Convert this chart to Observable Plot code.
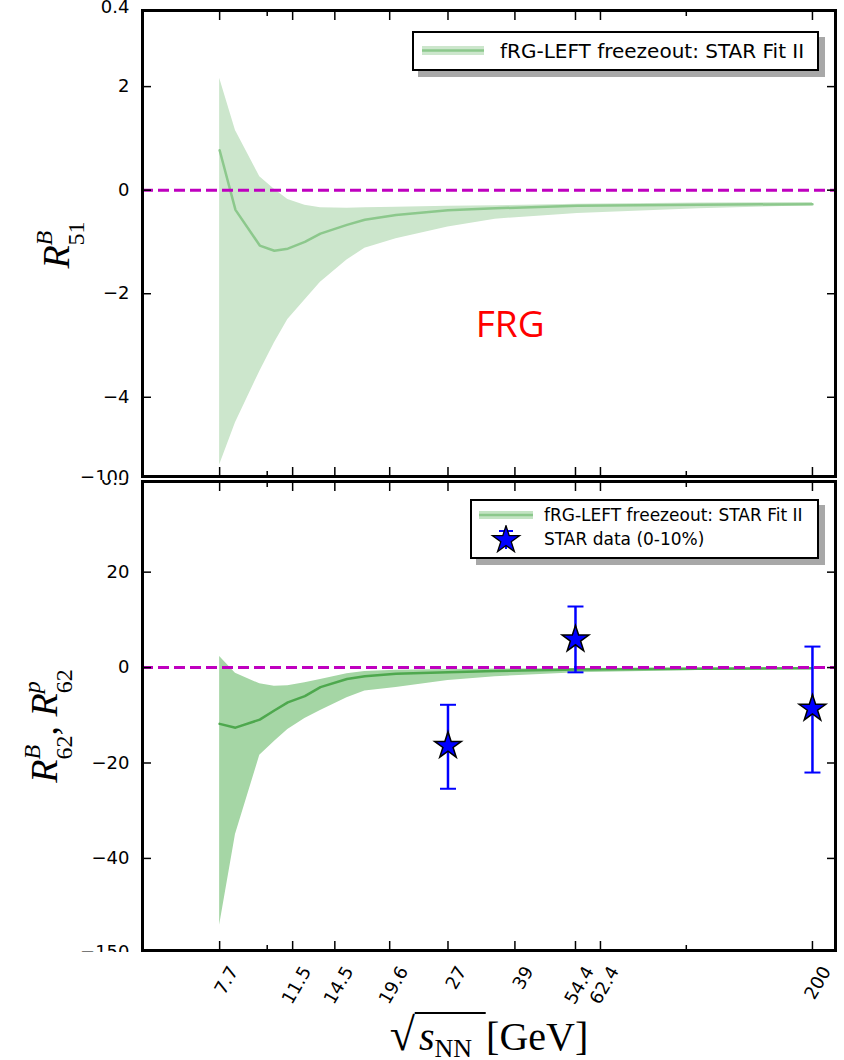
<!DOCTYPE html>
<html><head><meta charset="utf-8">
<script src="https://cdn.jsdelivr.net/npm/d3@7"></script>
<script src="https://cdn.jsdelivr.net/npm/@observablehq/plot@0.6"></script>
<style>
body{margin:0;background:#fff;}
#wrap{position:relative;width:844px;height:1060px;overflow:hidden;background:#fff;font-family:"DejaVu Sans",sans-serif;}
.pane{position:absolute;left:0;}
.legend{position:absolute;box-sizing:border-box;border:2px solid #000;background:#fff;box-shadow:6px 6px 0 #a8a8a8;}
.row{position:absolute;left:0;display:flex;align-items:center;white-space:nowrap;color:#000;}
.ylab{position:absolute;transform:translate(-50%,-50%) rotate(-90deg);font-family:"Liberation Serif",serif;font-size:38px;white-space:nowrap;line-height:1;color:#000;}
.ss{display:inline-block;font-size:24px;line-height:32px;vertical-align:-15px;}
.ss>*{display:block;}
#xlab{position:absolute;left:489px;top:1008px;transform:translateX(-50%);font-family:"Liberation Serif",serif;font-size:40px;white-space:nowrap;color:#000;}
#xlab .rad{font-size:46px;}
#xlab .ov{border-top:2px solid #000;padding:0 14px 0 4px;}
#xlab .nn{font-size:26px;position:relative;top:7px;}
</style></head>
<body><div id="wrap">
<div class="pane" id="top" style="top:0"></div>
<div class="pane" id="bot" style="top:480px"></div>
<div class="pane" id="xt" style="top:952px"></div>
<div class="legend" id="leg1" style="left:412px;top:31px;width:407px;height:40px;"></div>
<div class="legend" id="leg2" style="left:470px;top:499px;width:349px;height:60px;"></div>
<div class="ylab" style="left:60px;top:245px;"><i>R</i><span class="ss"><i>B</i><span>51</span></span></div>
<div class="ylab" style="left:48px;top:726px;"><i>R</i><span class="ss"><i>B</i><span>62</span></span>,&nbsp;<i>R</i><span class="ss"><i>p</i><span>62</span></span></div>
<div id="xlab"><span class="rad">√</span><span class="ov"><i>s</i><span class="nn">NN</span></span>[GeV]</div>
</div>
<script>
// ---- data ----
const energy = [7.7, 8.4, 9.6, 10.4, 11.2, 12.3, 13.4, 15.5, 17.1, 20.3, 27, 35, 55, 107, 200];
const r51Mid = [0.77, -0.38, -1.07, -1.17, -1.13, -1.0, -0.84, -0.67, -0.57, -0.48, -0.39, -0.35, -0.30, -0.28, -0.27];
const r51Hi  = [2.16, 1.15, 0.26, 0.02, -0.18, -0.29, -0.34, -0.35, -0.34, -0.33, -0.31, -0.30, -0.27, -0.25, -0.24];
const r51Lo  = [-5.31, -4.49, -3.50, -2.95, -2.50, -2.12, -1.78, -1.35, -1.12, -0.94, -0.71, -0.56, -0.45, -0.36, -0.30];
const r62Mid = [-11.8, -12.6, -10.9, -9.0, -7.3, -6.0, -4.1, -2.4, -1.8, -1.3, -1.0, -0.7, -0.42, -0.25, -0.15];
const r62Hi  = [2.3, -1.2, -3.4, -3.9, -3.8, -3.2, -2.5, -1.3, -0.8, -0.55, -0.42, -0.3, -0.2, -0.1, -0.05];
const r62Lo  = [-54, -35, -18.4, -15.5, -13.0, -10.7, -9.0, -6.3, -4.9, -4.2, -2.7, -1.9, -1.1, -0.6, -0.35];
const starE  = [27, 54.4, 200];
const starV  = [-16.4, 5.9, -8.6];
const starHi = [-7.8, 12.8, 4.4];
const starLo = [-25.4, -1.0, -22.0];
const xTicks = [7.7, 11.5, 14.5, 19.6, 27, 39, 54.4, 62.4, 200];
const xMinor = [10, 100];
const y51Ticks = [-4, -2, 0, 2];
const y62Ticks = [-40, -20, 0, 20];
const frgE = [38], frgV = [-2.6], frgText = ["FRG"];
const strayTopV = [3.53, -5.55], strayTopT = ["0.4", "\u2212100"];
const strayBotV = [39.5, -59.7], strayBotT = ["\u22120.5", "\u2212150"];
const legendText = "fRG-LEFT freezeout: STAR Fit II";
const legendStar = "STAR data (0-10%)";

// ---- tables ----
const t51 = energy.map((E, i) => ({E, mid: r51Mid[i], hi: r51Hi[i], lo: r51Lo[i]}));
const t62 = energy.map((E, i) => ({E, mid: r62Mid[i], hi: r62Hi[i], lo: r62Lo[i]}));
const stars = starE.map((E, i) => ({E, v: starV[i], hi: starHi[i], lo: starLo[i]}));
const frg = frgE.map((E, i) => ({E, v: frgV[i], t: frgText[i]}));
const strayTop = strayTopV.map((v, i) => ({v, t: strayTopT[i]}));
const strayBot = strayBotV.map((v, i) => ({v, t: strayBotT[i]}));

const fmt = d => d < 0 ? "\u2212" + Math.abs(d) : String(d);
const xDomain = [5.04, 227];
const W = 844, ML = 142, MR = 9;
const hline = {draw(ctx, size) { const r = Math.sqrt(size / Math.PI); ctx.moveTo(-r, 0); ctx.lineTo(r, 0); }};
const none = () => "";

function axes(yTicks, stray) {
  const t = {strokeWidth: 1.5, label: null};
  return [
    Plot.axisY(yTicks, {...t, anchor: "left", tickSize: -9, tickFormat: none}),
    Plot.axisY(yTicks, {...t, anchor: "right", tickSize: -9, tickFormat: none}),
    Plot.axisY(yTicks, {anchor: "left", tickSize: 0, tickPadding: 13, tickFormat: fmt, fontSize: 18, label: null}),
    Plot.text(stray, {y: "v", text: "t", frameAnchor: "left", textAnchor: "end", dx: -13, fontSize: 18, fill: "black"}),
    Plot.axisX(xTicks, {...t, anchor: "bottom", tickSize: -9, tickFormat: none}),
    Plot.axisX(xTicks, {...t, anchor: "top", tickSize: -9, tickFormat: none}),
    Plot.axisX(xMinor, {...t, anchor: "bottom", tickSize: -5, tickFormat: none}),
    Plot.axisX(xMinor, {...t, anchor: "top", tickSize: -5, tickFormat: none})
  ];
}
const baseStyle = {background: "white", fontFamily: "DejaVu Sans", fontSize: "18px", color: "black"};

const topPlot = Plot.plot({
  width: W, height: 480, marginLeft: ML, marginRight: MR, marginTop: 10, marginBottom: 4,
  style: baseStyle,
  x: {type: "log", domain: xDomain, axis: null},
  y: {domain: [-5.53, 3.47], axis: null},
  marks: [
    Plot.areaY(t51, {x: "E", y1: "lo", y2: "hi", fill: "#cce6cc"}),
    Plot.line(t51, {x: "E", y: "mid", stroke: "#8cc88c", strokeWidth: 2.5}),
    Plot.ruleY([0], {stroke: "#bf00bf", strokeWidth: 3, strokeDasharray: "11,5"}),
    Plot.text(frg, {x: "E", y: "v", text: "t", fill: "red", fontSize: 37, fontFamily: "Open Sans"}),
    ...axes(y51Ticks, strayTop),
    Plot.frame({stroke: "black", strokeWidth: 3})
  ]
});
document.getElementById("top").appendChild(topPlot);

const botPlot = Plot.plot({
  width: W, height: 472, marginLeft: ML, marginRight: MR, marginTop: 1, marginBottom: 2,
  style: baseStyle,
  x: {type: "log", domain: xDomain, axis: null},
  y: {domain: [-59.3, 39.0], axis: null},
  marks: [
    Plot.areaY(t62, {x: "E", y1: "lo", y2: "hi", fill: "#a5d6a5"}),
    Plot.line(t62, {x: "E", y: "mid", stroke: "#4ea84e", strokeWidth: 2.5}),
    Plot.ruleY([0], {stroke: "#bf00bf", strokeWidth: 3, strokeDasharray: "11,5"}),
    Plot.ruleX(stars, {x: "E", y1: "lo", y2: "hi", stroke: "blue", strokeWidth: 2.5}),
    Plot.dot(stars, {x: "E", y: "hi", symbol: hline, r: 8, stroke: "blue", strokeWidth: 2}),
    Plot.dot(stars, {x: "E", y: "lo", symbol: hline, r: 8, stroke: "blue", strokeWidth: 2}),
    Plot.dot(stars, {x: "E", y: "v", symbol: "star", r: 8.4, fill: "blue", stroke: "black", strokeWidth: 1.5}),
    ...axes(y62Ticks, strayBot),
    Plot.frame({stroke: "black", strokeWidth: 3})
  ]
});
document.getElementById("bot").appendChild(botPlot);

const xtPlot = Plot.plot({
  width: W, height: 60, marginLeft: ML, marginRight: MR, marginTop: 0, marginBottom: 0,
  style: baseStyle,
  x: {type: "log", domain: xDomain, axis: null},
  marks: [
    Plot.text(xTicks, {x: d => d, text: d => String(d), frameAnchor: "top", rotate: -60, textAnchor: "end", dx: 8, dy: 12, fontSize: 18, fill: "black"})
  ]
});
document.getElementById("xt").appendChild(xtPlot);

// ---- legends ----
const starPath = d3.symbol(d3.symbolStar, 230)();
document.getElementById("leg1").innerHTML =
  `<div class="row" style="top:0;height:36px;font-size:20px;">
     <svg width="86" height="36" style="flex:none"><rect x="8" y="13" width="62" height="9" fill="#cce6cc"/><line x1="8" x2="70" y1="17.5" y2="17.5" stroke="#8cc88c" stroke-width="2.5"/></svg>
     <span>${legendText}</span></div>`;
document.getElementById("leg2").innerHTML =
  `<div class="row" style="top:2px;height:24px;font-size:17px;">
     <svg width="72" height="24" style="flex:none"><rect x="7" y="8" width="54" height="8" fill="#c4e4c4"/><line x1="7" x2="61" y1="12" y2="12" stroke="#8cc88c" stroke-width="2.5"/></svg>
     <span>${legendText}</span></div>
   <div class="row" style="top:24px;height:28px;font-size:17px;">
     <svg width="72" height="28" style="flex:none"><line x1="34" x2="34" y1="5" y2="24" stroke="blue" stroke-width="2"/><line x1="27" x2="41" y1="6" y2="6" stroke="blue" stroke-width="2"/><path d="${starPath}" transform="translate(34,15)" fill="blue" stroke="black" stroke-width="1.3"/></svg>
     <span>${legendStar}</span></div>`;
</script>
</body></html>
